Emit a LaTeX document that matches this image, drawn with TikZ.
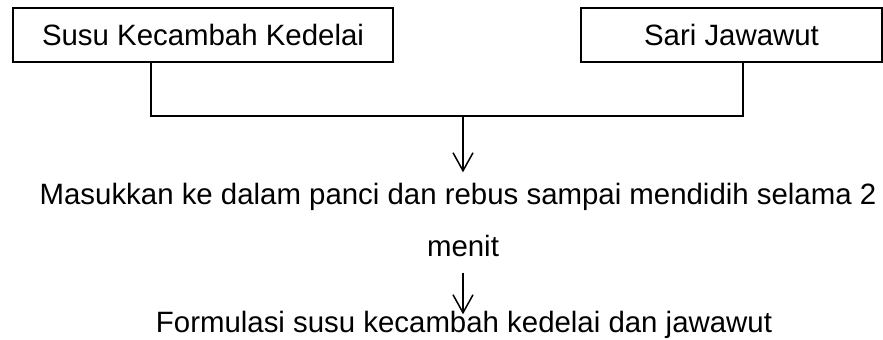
\documentclass[tikz,border=0pt]{standalone}
\usepackage{fontspec}
\setmainfont{Liberation Sans}
\usetikzlibrary{arrows.meta}
\begin{document}
\begin{tikzpicture}[x=0.5pt,y=-0.5pt,
  font=\fontsize{14.7pt}{17pt}\selectfont,
  box/.style={draw,line width=0.7pt,inner sep=0pt,text depth=0pt,minimum height=27pt},
  txt/.style={inner sep=0pt,anchor=base},
  link/.style={line width=0.75pt},
  arr/.style={line width=0.75pt,-{Straight Barb[length=9pt,width=10pt,line width=0.75pt]}}]
\useasboundingbox (0,0) rectangle (883,340);
\node[box,minimum width=190pt] (b1) at (203,35) {Susu Kecambah Kedelai};
\node[box,minimum width=150.5pt] (b2) at (731.5,35) {Sari Jawawut};
\coordinate (j1) at (151,116);
\coordinate (j2) at (743,116);
\coordinate (jm) at (463,116);
\node[txt] (s1) at (458,205) {Masukkan ke dalam panci dan rebus sampai mendidih selama 2};
\node[txt] (s2) at (463,257) {menit};
\node[txt] (s3) at (464,333) {Formulasi susu kecambah kedelai dan jawawut};
\draw[link] (j1 |- b1.south) -- (j1) -- (j2) -- (j2 |- b2.south);
\draw[arr,shorten >=5.5pt] (jm) -- (jm |- s1.north);
\draw[arr,shorten <=7.5pt,shorten >=-1.5pt] (s2.south) -- (s2.south |- s3.north);
\end{tikzpicture}
\end{document}
